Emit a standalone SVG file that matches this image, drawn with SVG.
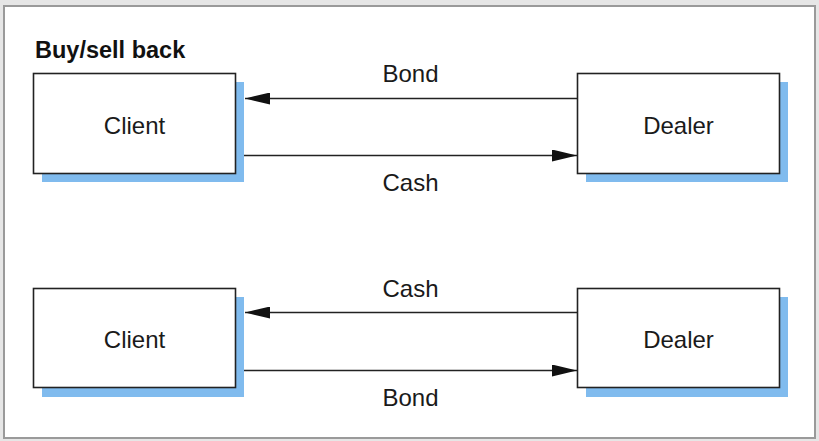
<svg xmlns="http://www.w3.org/2000/svg" width="819" height="441" viewBox="0 0 819 441">
<defs>
<style>
.bg{fill:#e6e6e6}
.frame{fill:#fff;stroke:#9a9a9a;stroke-width:2}
.shadow{fill:#80bbee}
.box{fill:#fff;stroke:#222;stroke-width:1.6}
.lbl{font-family:"Liberation Sans",Arial,sans-serif;font-size:24px;fill:#1a1a1a;text-anchor:middle}
.title{font-family:"Liberation Sans",Arial,sans-serif;font-size:23.5px;font-weight:bold;fill:#111}
.conn{stroke:#222;stroke-width:1.6;fill:none}
</style>
<marker id="ah" viewBox="0 0 25 12" refX="25" refY="6" markerWidth="25" markerHeight="12" markerUnits="userSpaceOnUse" orient="auto">
<path d="M0,0 L25,6 L0,12 Z" fill="#111"/>
</marker>
</defs>
<rect class="bg" x="0" y="0" width="819" height="441"/>
<rect class="frame" x="4" y="6" width="811" height="432"/>
<text class="title" x="35" y="58">Buy/sell back</text>
<g id="client1">
<rect class="shadow" x="42" y="82" width="202" height="100"/>
<rect class="box" x="33.5" y="73.5" width="202" height="100"/>
<text class="lbl" x="134.5" y="134">Client</text>
</g>
<g id="dealer1">
<rect class="shadow" x="586" y="82" width="202" height="100"/>
<rect class="box" x="577.5" y="73.5" width="202" height="100"/>
<text class="lbl" x="678.5" y="134">Dealer</text>
</g>
<g id="client2">
<rect class="shadow" x="42" y="297" width="202" height="100"/>
<rect class="box" x="33.5" y="288.5" width="202" height="99"/>
<text class="lbl" x="134.5" y="348">Client</text>
</g>
<g id="dealer2">
<rect class="shadow" x="586" y="297" width="202" height="100"/>
<rect class="box" x="577.5" y="288.5" width="202" height="99"/>
<text class="lbl" x="678.5" y="348">Dealer</text>
</g>
<g id="connectors">
<line class="conn" x1="577" y1="98.5" x2="245" y2="98.5" marker-end="url(#ah)"/>
<line class="conn" x1="244" y1="155.5" x2="577" y2="155.5" marker-end="url(#ah)"/>
<line class="conn" x1="577" y1="312.5" x2="245" y2="312.5" marker-end="url(#ah)"/>
<line class="conn" x1="244" y1="370.5" x2="577" y2="370.5" marker-end="url(#ah)"/>
<text class="lbl" x="410.5" y="82">Bond</text>
<text class="lbl" x="410.5" y="191">Cash</text>
<text class="lbl" x="410.5" y="297">Cash</text>
<text class="lbl" x="410.5" y="406">Bond</text>
</g>
</svg>
